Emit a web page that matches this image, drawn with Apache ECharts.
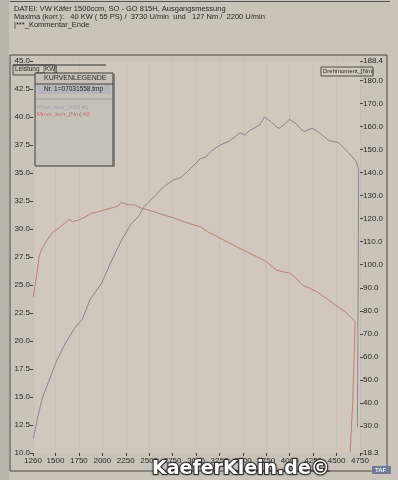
<!DOCTYPE html>
<html>
<head>
    <meta charset="utf-8">
    <script src="https://cdn.jsdelivr.net/npm/echarts@6/dist/echarts.min.js"></script>
    <style>
        html, body { margin: 0; padding: 0; background: #c7c1b7; }
        #chart { width: 398px; height: 480px; }
    </style>
</head>
<body>
<div id="chart"></div>
<script>
    // Leistung (kW) ueber Drehzahl
    var powerRpm = [1265, 1310, 1363, 1433, 1500, 1605, 1710, 1784, 1869, 1995, 2100, 2205, 2310, 2384, 2447,
        2553, 2658, 2764, 2838, 2943, 3048, 3100, 3153, 3259, 3364, 3469, 3520, 3574, 3680, 3730, 3800, 3859,
        3891, 3950, 3996, 4070, 4120, 4154, 4238, 4312, 4417, 4522, 4628, 4712, 4735, 4730, 4722];
    var powerKw = [11.3, 13.2, 15.0, 16.5, 18.0, 19.8, 21.2, 21.9, 23.7, 25.2, 27.2, 29.0, 30.5, 31.1, 32.0,
        32.9, 33.8, 34.4, 34.6, 35.4, 36.3, 36.4, 36.9, 37.5, 37.9, 38.6, 38.4, 38.8, 39.3, 40.0, 39.6, 39.1,
        39.0, 39.4, 39.8, 39.4, 38.9, 38.7, 39.0, 38.6, 37.9, 37.7, 36.8, 36.0, 35.3, 24.0, 12.3];

    // Drehmoment (Nm) ueber Drehzahl
    var torqueRpm = [1265, 1328, 1363, 1416, 1468, 1539, 1605, 1644, 1679, 1749, 1816, 1890, 1960, 2026, 2100,
        2171, 2200, 2277, 2342, 2416, 2486, 2553, 2658, 2764, 2869, 2975, 3048, 3119, 3224, 3330, 3435, 3501,
        3646, 3751, 3857, 3922, 3996, 4066, 4133, 4206, 4287, 4382, 4487, 4593, 4698, 4672, 4645];
    var torqueNm = [86.0, 104.0, 107.5, 111.0, 114.0, 116.0, 118.3, 119.7, 118.7, 119.4, 120.7, 122.5, 123.0,
        123.8, 124.6, 125.5, 127.0, 126.0, 126.0, 124.6, 123.8, 123.0, 121.6, 120.3, 118.7, 117.3, 116.5, 114.4,
        112.2, 110.0, 107.8, 106.4, 103.5, 101.3, 97.7, 97.0, 96.4, 94.3, 91.2, 89.9, 88.3, 85.6, 82.5, 79.6,
        75.3, 40.0, 18.5];

    // Achsbeschriftungen
    var rpmTicks = [1260, 1500, 1750, 2000, 2250, 2500, 2750, 3000, 3250, 3500, 3750, 4000, 4250, 4500, 4750];
    var nmTicks = [18.3, 30, 40, 50, 60, 70, 80, 90, 100, 110, 120, 130, 140, 150, 160, 170, 180, 188.4];

    var headerLines = [
        'DATEI: VW Käfer 1500ccm, SO - GO 815H, Ausgangsmessung',
        'Maxima (korr.):   40 KW ( 55 PS) /  3730 U/min  und   127 Nm /  2200 U/min',
        '|***_Kommentar_Ende'
    ];

    function zip(xs, ys) {
        var out = [];
        for (var i = 0; i < xs.length; i++) out.push([xs[i], ys[i]]);
        return out;
    }

    var chart = echarts.init(document.getElementById('chart'), null, { renderer: 'canvas' });
    var font = 'Liberation Sans, Arial, sans-serif';
    var txt = '#2b2a28';

    var graphics = [
        // obere Linie und Kopfzeilen
        { type: 'rect', shape: { x: 10, y: 1, width: 380, height: 1 }, style: { fill: '#555' }, z: 0 },
        // Rahmen des Diagramms
        { type: 'rect', shape: { x: 10, y: 55, width: 377, height: 416 },
          style: { fill: 'none', stroke: '#4a4844', lineWidth: 1 }, z: 0 },
        { type: 'rect', shape: { x: 0, y: 0, width: 9, height: 480 }, style: { fill: '#b8b3ab' }, z: -1 },
        // Leistung-Beschriftung
        { type: 'line', shape: { x1: 13, y1: 65, x2: 106, y2: 65 }, style: { stroke: '#333', lineWidth: 1 } },
        { type: 'rect', shape: { x: 13, y: 65, width: 42, height: 10 },
          style: { fill: 'none', stroke: '#333', lineWidth: 0.8 } },
        { type: 'text', left: 15, top: 66, style: { text: 'Leistung_[KW]', font: '6.5px ' + font, fill: txt } },
        // Drehmoment-Beschriftung
        { type: 'rect', shape: { x: 321, y: 67, width: 52, height: 9 },
          style: { fill: 'none', stroke: '#333', lineWidth: 0.8 } },
        { type: 'text', left: 323, top: 68, style: { text: 'Drehmoment_[Nm]', font: '6px ' + font, fill: txt } },
        // Kurvenlegende
        { type: 'rect', shape: { x: 35, y: 73, width: 78, height: 93 },
          style: { fill: '#c6c1b8', stroke: '#3d3c3a', lineWidth: 1 }, z: 5 },
        { type: 'line', shape: { x1: 114, y1: 74, x2: 114, y2: 167 }, style: { stroke: '#6e6b66', lineWidth: 1.5 }, z: 5 },
        { type: 'line', shape: { x1: 35, y1: 84, x2: 113, y2: 84 }, style: { stroke: '#3d3c3a', lineWidth: 1 }, z: 5 },
        { type: 'text', left: 44, top: 75, style: { text: 'KURVENLEGENDE', font: '7px ' + font, fill: txt }, z: 6 },
        { type: 'rect', shape: { x: 37, y: 85, width: 74, height: 9 }, style: { fill: '#b4b6bb' }, z: 5 },
        { type: 'text', left: 44, top: 86, style: { text: 'Nr. 1=07031558.tmp', font: '6.5px ' + font, fill: txt }, z: 6 },
        { type: 'line', shape: { x1: 36, y1: 99, x2: 112, y2: 99 }, style: { stroke: '#8a8782', lineWidth: 0.6 }, z: 5 },
        { type: 'text', left: 37, top: 104, style: { text: 'Pmot_korr_[kW] #1', font: '6px ' + font, fill: '#9da2aa' }, z: 6 },
        { type: 'text', left: 37, top: 111, style: { text: 'Mmot_korr_[Nm] #2', font: '6px ' + font, fill: '#c2727a' }, z: 6 },
        // Wasserzeichen und Logo
        { type: 'line', shape: { x1: 230, y1: 471, x2: 330, y2: 471 }, style: { stroke: '#333', lineWidth: 1 }, z: 7 },
        { type: 'text', left: 151, top: 459, z: 10,
          style: { text: 'KaeferKlein.de©', font: 'bold 19px DejaVu Sans, sans-serif', fill: '#ffffff',
                   stroke: '#3a3834', lineWidth: 2, textShadowColor: 'rgba(0,0,0,0.5)', textShadowBlur: 2 } },
        { type: 'rect', shape: { x: 372, y: 466, width: 19, height: 8 }, style: { fill: '#6d7d98' }, z: 8 },
        { type: 'text', left: 375, top: 467, style: { text: 'TAF', font: 'bold 6px ' + font, fill: '#e8ecf4' }, z: 9 }
    ];
    for (var i = 0; i < headerLines.length; i++) {
        graphics.push({ type: 'text', left: 14, top: 5 + i * 8,
            style: { text: headerLines[i], font: '7.5px ' + font, fill: txt } });
    }

    var option = {
        backgroundColor: '#c9c3b9',
        animation: false,
        grid: { left: 33, right: 38, top: 61, bottom: 27, show: true, backgroundColor: '#d0c8bd', borderWidth: 0 },
        xAxis: {
            type: 'value', min: 1260, max: 4750,
            axisLine: { show: false },
            axisTick: { show: true, length: 3, customValues: rpmTicks, lineStyle: { color: '#444' } },
            axisLabel: { customValues: rpmTicks, fontSize: 8, fontFamily: font, color: txt, margin: 4,
                formatter: function (v) { return String(v); } },
            splitLine: { show: true, lineStyle: { color: 'rgba(120,110,100,0.08)' } }
        },
        yAxis: [{
            type: 'value', min: 10, max: 45, interval: 2.5,
            axisLine: { show: false },
            axisTick: { show: true, length: 3, lineStyle: { color: '#444' } },
            axisLabel: { fontSize: 8, fontFamily: font, color: txt, margin: 3,
                formatter: function (v) { return v.toFixed(1); } },
            splitLine: { show: false }
        }, {
            type: 'value', min: 18.3, max: 188.4,
            axisLine: { show: false },
            axisTick: { show: true, length: 3, customValues: nmTicks, lineStyle: { color: '#444' } },
            axisLabel: { customValues: nmTicks, fontSize: 8, fontFamily: font, color: txt, margin: 3,
                formatter: function (v) { return v.toFixed(1); } },
            splitLine: { show: false }
        }],
        series: [{
            name: 'Pmot_korr_[kW] #1', type: 'line', yAxisIndex: 0,
            data: zip(powerRpm, powerKw), showSymbol: false,
            lineStyle: { color: '#868b95', width: 1 }
        }, {
            name: 'Mmot_korr_[Nm] #2', type: 'line', yAxisIndex: 1,
            data: zip(torqueRpm, torqueNm), showSymbol: false,
            lineStyle: { color: '#c27f76', width: 1 }
        }],
        graphic: graphics
    };
    chart.setOption(option);
</script>
</body>
</html>
